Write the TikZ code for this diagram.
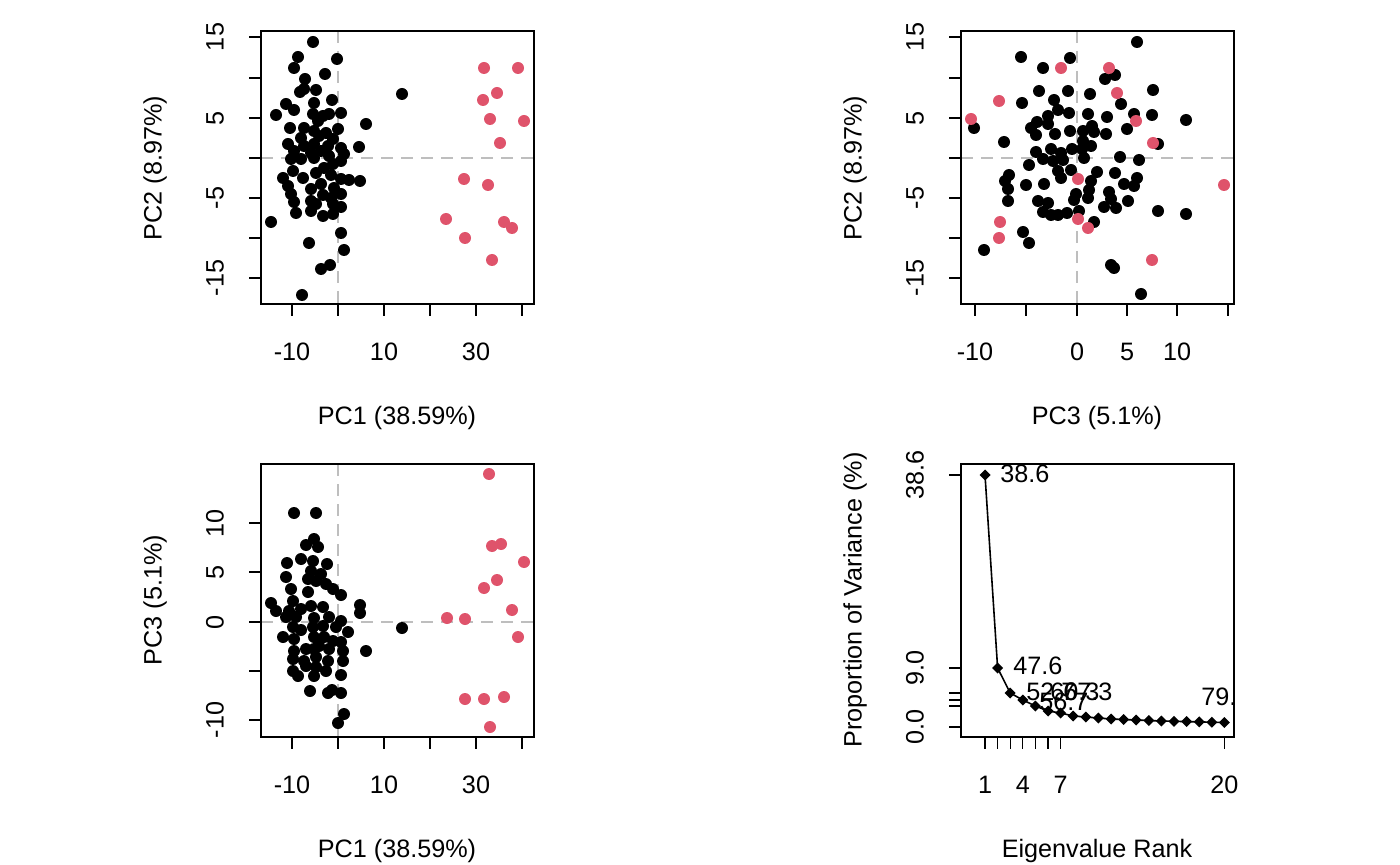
\documentclass[tikz,border=0pt]{standalone}
\usepackage{fontspec}
\setmainfont{Liberation Sans}
\definecolor{pcred}{HTML}{DF536B}
\definecolor{refgrey}{HTML}{BEBEBE}
\begin{document}
\begin{tikzpicture}[x=0.5pt,y=-0.5pt,font=\fontsize{12.6}{15}\selectfont]
\tikzstyle{every node}+=[inner sep=0pt]
\tikzstyle{refline}=[refgrey, dashed, dash pattern=on 6pt off 4pt, line width=0.6pt]
\tikzstyle{frame}=[black, line width=0.6pt]
\useasboundingbox (0,0) rectangle (1400,865);
% panel 1: PC1 vs PC2
\draw [refline] (338,31) -- (338,304);
\draw [refline] (261,158) -- (534,158);
\foreach \x/\y in {313/42,298/57,337/59,294/68,325/74,305/79,316/90,300/92,304/89,332/100,286/104,294/110,314/103,276/115,341/113,313/114,323/116,329/114,318/121,290/128,304/128,338/129,366/124,314/131,326/133,301/138,319/136,333/139,288/144,304/146,314/144,328/146,359/147,341/148,294/151,311/153,321/151,344/154,291/159,301/159,314/158,329/156,341/161,333/164,324/168,293/171,316/173,331/175,283/178,303/178,341/179,349/180,360/181,288/186,321/184,311/189,334/188,291/194,341/194,323/195,331/198,294/202,311/201,333/204,341/207,316/204,296/213,311/211,323/216,333/214,271/222,341/233,309/243,344/250,321/269,330/265,302/295,402/94}
  \fill [black] (\x,\y) circle (6);
\foreach \x/\y in {484/68,518/68,483/100,497/93,490/119,524/121,500/143,464/179,488/185,446/219,465/238,504/222,512/228,492/260}
  \fill [pcred] (\x,\y) circle (6);
\draw [frame] (261,31) rectangle (534,304);
\foreach \x in {292,338,384,430,476,522}
  \draw [frame] (\x,304) -- (\x,316);
\foreach \x/\t in {292/-10,384/10,476/30}
  \node (xa\t) at (\x,352) {\t};
\foreach \y in {37,78,118,158,198,238,278}
  \draw [frame] (261,\y) -- (249,\y);
\foreach \y/\t in {37/15,118/5,198/-5,278/-15}
  \node [rotate=90] (ya\t) at (215,\y) {\t};
\node (xtitleA) at (397,418) {PC1 (38.59\%)};
\node [rotate=90] (ytitleA) at (155,168) {PC2 (8.97\%)};
% panel 2: PC3 vs PC2
\draw [refline] (1077,31) -- (1077,304);
\draw [refline] (961,158) -- (1234,158);
\foreach \x/\y in {1137/42,1021/57,1070/58,1043/68,1115/75,1105/79,1039/91,1068/91,1153/90,1090/94,1022/103,1054/100,1121/104,1058/110,1048/116,1069/113,1088/114,1107/117,1134/114,1152/115,1186/120,974/128,1037/122,1031/128,1048/124,1092/126,1127/129,1036/135,1055/134,1070/131,1083/131,1094/132,1106/134,1004/142,1083/141,1091/146,1158/144,1036/152,1051/149,1061/153,1072/149,1082/149,1043/159,1053/161,1063/160,1084/158,1120/157,1139/160,1029/165,1058/171,1071/170,1097/172,1115/173,1009/175,1005/181,1061/178,1091/181,1137/178,1026/185,1044/184,1124/184,1134/186,1008/189,1089/190,1109/192,1076/194,1008/201,1038/201,1048/203,1074/200,1088/198,1111/199,1128/201,1104/207,1116/208,1043/212,1051/215,1058/215,1067/213,1079/211,1158/211,1186/214,1094/222,1023/232,1029/243,984/250,1111/265,1114/268,1141/294}
  \fill [black] (\x,\y) circle (6);
\foreach \x/\y in {1061/68,1109/68,999/101,1117/93,971/119,1136/121,1153/143,1078/179,1224/185,1000/222,999/238,1078/219,1088/228,1152/260}
  \fill [pcred] (\x,\y) circle (6);
\draw [frame] (961,31) rectangle (1234,304);
\foreach \x in {975,1026,1077,1127,1177,1228}
  \draw [frame] (\x,304) -- (\x,316);
\foreach \x/\t in {975/-10,1077/0,1127/5,1177/10}
  \node (xb\t) at (\x,352) {\t};
\foreach \y in {37,78,118,158,198,238,278}
  \draw [frame] (961,\y) -- (949,\y);
\foreach \y/\t in {37/15,118/5,198/-5,278/-15}
  \node [rotate=90] (yb\t) at (915,\y) {\t};
\node (xtitleB) at (1097,418) {PC3 (5.1\%)};
\node [rotate=90] (ytitleB) at (855,168) {PC2 (8.97\%)};
% panel 3: PC1 vs PC3
\draw [refline] (338,464) -- (338,737);
\draw [refline] (261,622) -- (534,622);
\foreach \x/\y in {294/513,316/513,314/539,306/545,318/547,301/559,287/563,313/561,327/564,286/577,311/571,321/574,308/579,316/581,326/584,291/589,333/589,308/592,341/595,271/603,293/601,276/611,289/611,301/609,311/606,323/607,360/605,360/613,286/617,296/617,314/618,329/617,341/621,293/627,301/630,313/627,323/626,336/627,348/632,283/637,294/639,314/637,324/637,333/641,341/642,319/646,294/651,306/649,314/649,329/649,343/651,366/651,293/659,304/661,316/657,328/661,343/661,293/671,306/666,316/667,326/671,298/676,314/676,341/675,310/691,328/693,332/690,341/693,344/714,338/723,402/628}
  \fill [black] (\x,\y) circle (6);
\foreach \x/\y in {489/474,492/546,501/544,497/580,484/588,524/562,512/610,518/637,447/618,465/619,465/699,484/699,504/697,490/727}
  \fill [pcred] (\x,\y) circle (6);
\draw [frame] (261,464) rectangle (534,737);
\foreach \x in {292,338,384,430,476,522}
  \draw [frame] (\x,737) -- (\x,749);
\foreach \x/\t in {292/-10,384/10,476/30}
  \node (xc\t) at (\x,785) {\t};
\foreach \y in {523,572,622,671,720}
  \draw [frame] (261,\y) -- (249,\y);
\foreach \y/\t in {523/10,572/5,622/0,720/-10}
  \node [rotate=90] (yc\t) at (215,\y) {\t};
\node (xtitleC) at (397,851) {PC1 (38.59\%)};
\node [rotate=90] (ytitleC) at (155,600) {PC3 (5.1\%)};
% panel 4: scree plot
\begin{scope}
\clip (961,464) rectangle (1234,737);
\draw [black, line width=0.8pt] (985,475) -- (997.6,668) -- (1010.2,693) -- (1022.8,700) -- (1035.4,706) -- (1048,711) -- (1060.6,713) -- (1073.2,716) -- (1085.8,717) -- (1098.4,718) -- (1111,719) -- (1123.6,719.5) -- (1136.2,720) -- (1148.8,720.5) -- (1161.4,721) -- (1174,721.3) -- (1186.6,721.6) -- (1199.2,721.9) -- (1211.8,722.2) -- (1224.4,722.5);
\foreach \x/\y in {985/475,997.6/668,1010.2/693,1022.8/700,1035.4/706,1048/711,1060.6/713,1073.2/716,1085.8/717,1098.4/718,1111/719,1123.6/719.5,1136.2/720,1148.8/720.5,1161.4/721,1174/721.3,1186.6/721.6,1199.2/721.9,1211.8/722.2,1224.4/722.5}
  \fill [black] (\x,\y-5.5) -- (\x+5.5,\y) -- (\x,\y+5.5) -- (\x-5.5,\y) -- cycle;
\node [anchor=west] (lab1) at (1000,474) {38.6};
\node [anchor=west] (lab2) at (1013,666) {47.6};
\node [anchor=west] (lab3) at (1026,692) {52.7};
\node [anchor=west] (lab4) at (1039,702) {56.7};
\node [anchor=west] (lab5) at (1050,692) {60.3};
\node [anchor=west] (lab6) at (1063,692) {67.3};
\node [anchor=west] (lab20) at (1201,697) {79.5};
\end{scope}
\draw [frame] (961,464) rectangle (1234,737);
\foreach \i in {1,...,7,20}
  \draw [frame] ({985+12.6*(\i-1)},737) -- ({985+12.6*(\i-1)},749);
\foreach \i in {1,4,7,20}
  \node (xd\i) at ({985+12.6*(\i-1)},785) {\i};
\foreach \y in {475,668,693,700,706,727}
  \draw [frame] (961,\y) -- (949,\y);
\foreach \y/\t in {475/38.6,668/9.0,727/0.0}
  \node [rotate=90] (yd\t) at (915,\y) {\t};
\node (xtitleD) at (1097,851) {Eigenvalue Rank};
\node [rotate=90] (ytitleD) at (855,600) {Proportion of Variance (\%)};
\end{tikzpicture}
\end{document}
